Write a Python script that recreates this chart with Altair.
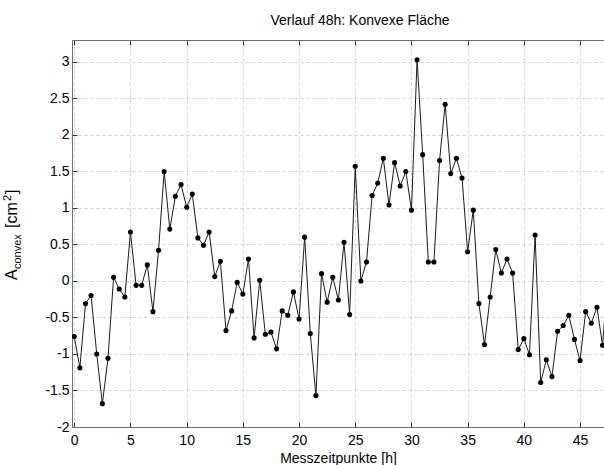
import altair as alt
import pandas as pd

# Convex area (cm^2) sampled every half hour over 48 h
area = [
    -0.76, -1.19, -0.31, -0.20, -1.00, -1.68, -1.06, 0.05, -0.11, -0.22,
    0.67, -0.06, -0.06, 0.22, -0.42, 0.42, 1.50, 0.71, 1.16, 1.32,
    1.01, 1.19, 0.59, 0.49, 0.67, 0.06, 0.27, -0.68, -0.41, -0.02,
    -0.18, 0.30, -0.78, 0.01, -0.73, -0.70, -0.93, -0.41, -0.47, -0.15,
    -0.52, 0.60, -0.72, -1.57, 0.10, -0.29, 0.05, -0.26, 0.53, -0.46,
    1.57, 0.00, 0.26, 1.17, 1.34, 1.68, 1.04, 1.62, 1.30, 1.50,
    0.97, 3.03, 1.73, 0.26, 0.26, 1.65, 2.42, 1.47, 1.68, 1.41,
    0.40, 0.97, -0.31, -0.87, -0.22, 0.43, 0.11, 0.30, 0.11, -0.94,
    -0.79, -1.01, 0.63, -1.39, -1.08, -1.31, -0.69, -0.61, -0.47, -0.80,
    -1.09, -0.42, -0.58, -0.36, -0.88, 0.10,
]
hours = [k / 2 for k in range(len(area))]

x_ticks = [0, 5, 10, 15, 20, 25, 30, 35, 40, 45]
y_ticks = [-2, -1.5, -1, -0.5, 0, 0.5, 1, 1.5, 2, 2.5, 3]

df = pd.DataFrame({"t": hours, "a": area})

FONT = "Liberation Sans"
AXIS_GREY = "#6e6e6e"
GRID_GREY = "#cfcfcf"
inward = alt.ExprRef(expr="-5")

x_scale = alt.Scale(domain=[-0.2, 47.13], nice=False, zero=False)
y_scale = alt.Scale(domain=[-2, 3.3], nice=False, zero=False)

num_label = "datum.value < 0 ? '-' + format(-datum.value, '~g') : format(datum.value, '~g')"

# bottom axis drawn above everything so its frame line stays solid
x_bottom = alt.X(
    "t:Q", scale=x_scale,
    axis=alt.Axis(
        values=x_ticks, title="Messzeitpunkte [h]", tickSize=inward,
        labelPadding=11, labelFontSize=14, titleFontSize=14,
        titleFontWeight="normal", titlePadding=4, labelFont=FONT, titleFont=FONT,
        labelColor="#000000", titleColor="#000000",
        domain=True, domainColor=AXIS_GREY, tickColor="#333333",
        grid=False, zindex=1,
    ),
)
y_left = alt.Y(
    "a:Q", scale=y_scale,
    axis=alt.Axis(
        values=y_ticks, title="", tickSize=inward, labelPadding=8,
        labelFontSize=14, labelFont=FONT, labelColor="#000000",
        labelExpr=num_label,
        domain=True, domainColor=AXIS_GREY, tickColor="#333333",
        grid=True, gridDash=[3, 3], gridColor=GRID_GREY,
    ),
)

series = alt.Chart(df)

line = series.mark_line(color="#1a1a1a", strokeWidth=1, clip=True).encode(x=x_bottom, y=y_left)
dots = series.mark_circle(color="#000000", size=26, opacity=1, clip=True).encode(x=x_bottom, y=y_left)
plot = alt.layer(line, dots)

# top frame edge with inward ticks and the vertical grid, no labels
top_frame = series.mark_line(opacity=0).encode(
    x=alt.X(
        "t:Q", scale=x_scale,
        axis=alt.Axis(
            orient="top", values=x_ticks, labels=False, title="",
            tickSize=inward, domainColor=AXIS_GREY, tickColor="#333333",
            grid=True, gridDash=[3, 3], gridColor=GRID_GREY,
        ),
    ),
    y=y_left,
)


def piece(text, size, x, y):
    return alt.Chart(alt.Data(values=[{}])).mark_text(
        text=text, font=FONT, fontSize=size, angle=270,
        align="left", baseline="alphabetic", color="#000000",
    ).encode(x=alt.value(x), y=alt.value(y))


# y-axis title: A_convex [cm^2]
ylabel = [
    piece("A", 16, -55, 240),
    piece("convex", 11, -51, 229),
    piece("[cm", 16, -55, 188),
    piece("2", 11, -61, 161),
    piece("]", 16, -55, 154),
]

chart = alt.layer(plot, top_frame, *ylabel).resolve_axis(x="independent").properties(
    width=532,
    height=387,
    padding={"left": 72, "top": 40, "right": 0, "bottom": 38},
    autosize=alt.AutoSizeParams(type="none"),
    title=alt.TitleParams(
        "Verlauf 48h: Konvexe Fläche", font=FONT, fontSize=14, fontWeight="normal",
        color="#000000", anchor="middle", dx=22, dy=14, offset=15, baseline="alphabetic",
        frame="group",
    ),
).configure_view(stroke=None).configure(background="white")

chart.save("out.html", embed_options={"renderer": "svg", "actions": False})
